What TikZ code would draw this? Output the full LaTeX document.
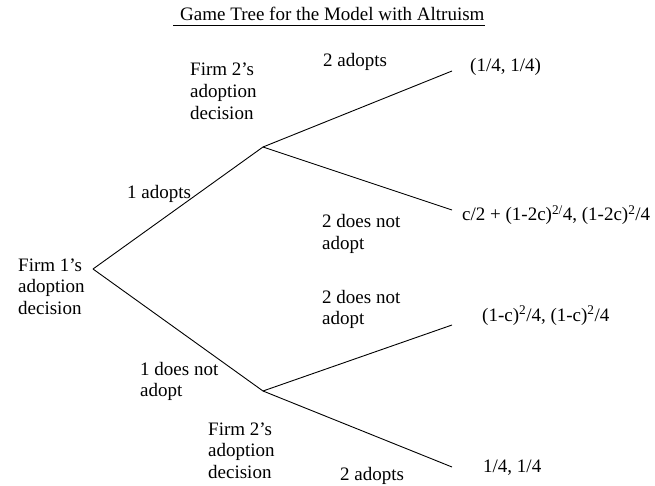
\documentclass[tikz,border=0pt]{standalone}
\usepackage{fontspec}
\setmainfont{Liberation Serif}
\usetikzlibrary{calc}

\begin{document}
\begin{tikzpicture}[x=1pt,y=-1pt,
	lbl/.style={anchor=base west, inner sep=0pt, align=left, font=\fontsize{19}{21.7}\selectfont},
	branch/.style={line width=0.9pt}]
	\useasboundingbox (0,0) rectangle (655,486);

	%title
	\node[lbl] (title) at (180,21) {Game Tree for the Model with Altruism};
	\draw[line width=0.8pt] ([xshift=-7pt,yshift=-4pt]title.base west) -- ([yshift=-4pt]title.base east);

	%decision points and ends
	\coordinate (root) at (93,269);
	\coordinate (upper) at (263,147);
	\coordinate (lower) at (263,391);
	\coordinate (endA) at (452,71);
	\coordinate (endB) at (452,210);
	\coordinate (endC) at (452,325);
	\coordinate (endD) at (452,467);

	%branches
	\draw[branch] (root) -- (upper);
	\draw[branch] (root) -- (lower);
	\draw[branch] (upper) -- (endA);
	\draw[branch] (upper) -- (endB);
	\draw[branch] (lower) -- (endC);
	\draw[branch] (lower) -- (endD);

	%decision labels (base = last line)
	\node[lbl] (firmone) at (18,314.4) {Firm 1’s\\adoption\\decision};
	\node[lbl] (firmtwoup) at (190,119.4) {Firm 2’s\\adoption\\decision};
	\node[lbl] (firmtwolow) at (208,478.4) {Firm 2’s\\adoption\\decision};

	%move labels
	\node[lbl] (oneadopts) at (127,199) {1 adopts};
	\node[lbl] (onenot) at (140,396.7) {1 does not\\adopt};
	\node[lbl] (twoadoptsup) at (323,67) {2 adopts};
	\node[lbl] (twonotup) at (322,249.7) {2 does not\\adopt};
	\node[lbl] (twonotlow) at (322,324.7) {2 does not\\adopt};
	\node[lbl] (twoadoptslow) at (340,480) {2 adopts};

	%payoffs
	\node[lbl] (payA) at (470,72) {(1/4, 1/4)};
	\node[lbl] (payB) at (462,221) {c/2 + (1-2c)\textsuperscript{2/}4, (1-2c)\textsuperscript{2}/4};
	\node[lbl] (payC) at (482,321) {(1-c)\textsuperscript{2}/4, (1-c)\textsuperscript{2}/4};
	\node[lbl] (payD) at (483,472) {1/4, 1/4};
\end{tikzpicture}
\end{document}
